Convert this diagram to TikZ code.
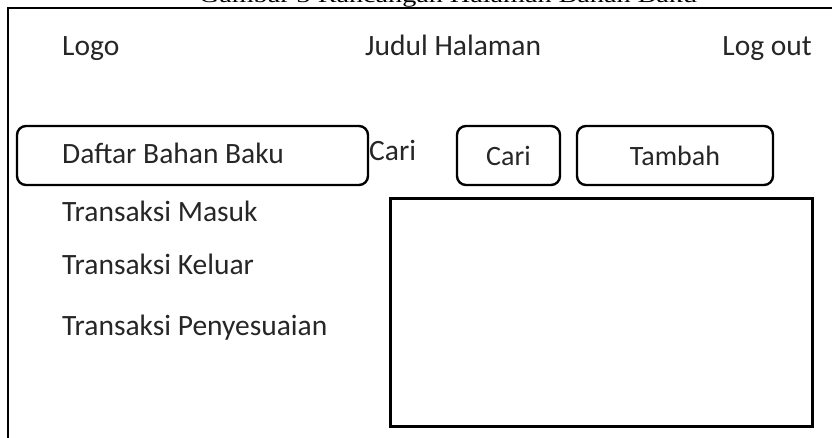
\documentclass[tikz,border=0pt]{standalone}
\usepackage{fontspec}
\setmainfont{Carlito}
\newfontfamily\captionfont{Liberation Serif}
\begin{document}
\begin{tikzpicture}[x=1pt,y=-1pt,
  label/.style={inner sep=0pt,anchor=base west,font=\fontsize{29.5}{34}\selectfont,text=black!85},
  menubox/.style={draw,line width=2.4pt,rounded corners=9pt},
  btn/.style={draw,line width=2.4pt,rounded corners=9pt,inner sep=0pt,font=\fontsize{28}{32}\selectfont,text=black!85},
  frameline/.style={line width=2pt}]
\useasboundingbox (0,0) rectangle (832,437);
\clip (0,0) rectangle (832,437);
% caption above the frame, cut by the page edge
\node[inner sep=0pt,anchor=base,font=\captionfont\fontsize{22}{26}\selectfont] (caption) at (448,2) {\scalebox{1.28}[1]{Gambar 3 Rancangan Halaman Bahan Baku}};
% outer frame
\draw[frameline] (8,460) -- (8,7.5) -- (850,7.5);
% header
\node[label] (logo) at (62,55) {Logo};
\node[label] (judul) at (365,55) {Judul Halaman};
\node[label,anchor=base east] (logout) at (812,55) {Log out};
% menu
\draw[menubox] (17,126) rectangle (368,185);
\node[label] (daftar) at (62,163) {Daftar Bahan Baku};
\node[label] (masuk) at (62,221) {Transaksi Masuk};
\node[label] (keluar) at (62,274) {Transaksi Keluar};
\node[label] (sesuai) at (62,335) {Transaksi Penyesuaian};
% search bar
\node[label] (carilbl) at (369,160) {Cari};
\node[btn,minimum width=103pt,minimum height=59pt] (cari) at (508.5,155.5) {Cari};
\node[btn,minimum width=196pt,minimum height=59pt] (tambah) at (675,155.5) {Tambah};
% data area
\draw[line width=3pt] (390,198) rectangle (812,426);
\end{tikzpicture}
\end{document}
